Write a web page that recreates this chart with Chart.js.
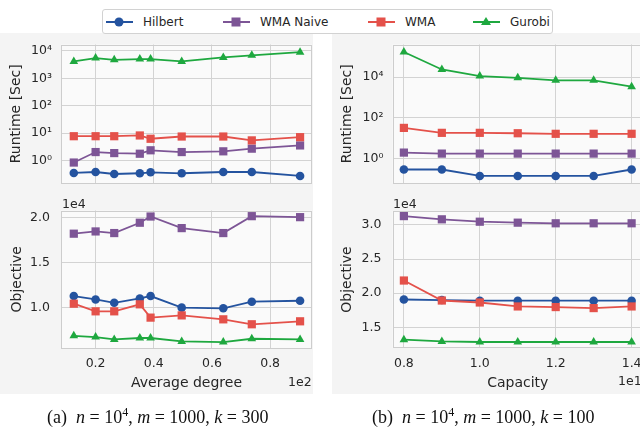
<!DOCTYPE html>
<html>
<head>
<meta charset="utf-8">
<script src="https://cdn.jsdelivr.net/npm/chart.js@4.4.0/dist/chart.umd.min.js"></script>
<style>
body { margin:0; width:640px; height:429px; overflow:hidden; background:#fff; position:relative;
       font-family:"DejaVu Sans", sans-serif; color:#262626; }
.col { position:absolute; background:#f4f4f4; top:33px; height:361px; }
canvas { position:absolute; }
.legend { position:absolute; left:102px; top:9px; width:449px; height:23px; background:#fff;
          border:1px solid #d2d2d2; border-radius:3px; z-index:5; }
.item { position:absolute; top:3px; height:18px; font-size:12px; line-height:18px; white-space:nowrap; }
.item svg { position:absolute; left:0; top:2px; }
.item span { position:absolute; top:0; }
.off { position:absolute; font-size:12.5px; line-height:15px; z-index:4; }
.cap { position:absolute; top:407px; font-family:"Liberation Serif", serif; font-size:18px; line-height:20px;
       white-space:nowrap; color:#111; }
.cap i { font-style:italic; }
.cap sup { font-size:12px; vertical-align:7px; line-height:0; }
</style>
</head>
<body>
<div class="col" style="left:0; width:313px;"></div>
<div class="col" style="left:332px; width:308px;"></div>

<div class="legend" id="legend"></div>

<canvas id="lt" width="330" height="172" style="left:0; top:28px;"></canvas>
<canvas id="lb" width="330" height="204" style="left:0; top:192px;"></canvas>
<canvas id="rt" width="330" height="172" style="left:332px; top:28px;"></canvas>
<canvas id="rb" width="330" height="204" style="left:332px; top:192px;"></canvas>

<div class="off" style="left:62px; top:196px;">1e4</div>
<div class="off" style="left:393px; top:196px;">1e4</div>
<div class="off" style="left:288px; top:374px;">1e2</div>
<div class="off" style="left:618px; top:373px;">1e1</div>

<div class="cap" style="left:47px;">(a)&nbsp; <i>n</i> = 10<sup>4</sup>, <i>m</i> = 1000, <i>k</i> = 300</div>
<div class="cap" style="left:372px;">(b)&nbsp; <i>n</i> = 10<sup>4</sup>, <i>m</i> = 1000, <i>k</i> = 100</div>

<script>
const methods = ['Hilbert', 'WMA Naive', 'WMA', 'Gurobi'];
const colors = ['#24539f', '#7d5596', '#e4514a', '#1ea83f'];
const markers = ['circle', 'rect', 'rect', 'triangle'];
const radii = [4.3, 5.8, 5.8, 5.0];

// x values as shown on the axes (x1e2 and x1e1)
const degree = [0.125, 0.20, 0.264, 0.352, 0.389, 0.496, 0.639, 0.737, 0.903];
const capacity = [0.8, 0.9, 1.0, 1.1, 1.2, 1.3, 1.4];

// runtime [sec] vs average degree
const rtDegHilbert = [0.36, 0.39, 0.33, 0.35, 0.38, 0.35, 0.39, 0.39, 0.28];
const rtDegNaive   = [0.86, 2.07, 1.9, 1.8, 2.4, 2.07, 2.2, 2.75, 3.6];
const rtDegWMA     = [7.8, 7.8, 7.8, 8.3, 6.3, 7.6, 7.6, 5.5, 7.2];
const rtDegGurobi  = [4100, 5400, 4700, 5000, 5000, 4100, 5700, 6800, 8900];

// objective (x1e4) vs average degree
const objDegHilbert = [1.129, 1.091, 1.054, 1.102, 1.129, 1.0, 0.993, 1.066, 1.077];
const objDegNaive   = [1.823, 1.848, 1.830, 1.945, 2.014, 1.885, 1.830, 2.018, 2.007];
const objDegWMA     = [1.044, 0.959, 0.959, 1.037, 0.889, 0.914, 0.870, 0.815, 0.848];
const objDegGurobi  = [0.687, 0.673, 0.646, 0.662, 0.662, 0.624, 0.617, 0.654, 0.646];

// runtime [sec] vs capacity
const rtCapHilbert = [0.29, 0.29, 0.14, 0.14, 0.14, 0.14, 0.29];
const rtCapNaive   = [1.96, 1.75, 1.75, 1.75, 1.75, 1.75, 1.75];
const rtCapWMA     = [32, 18.3, 18.3, 17.5, 16.4, 16.4, 16.4];
const rtCapGurobi  = [170000, 23600, 11200, 9200, 6900, 6900, 3400];

// objective (x1e4) vs capacity
const objCapHilbert = [1.908, 1.90, 1.89, 1.89, 1.89, 1.89, 1.89];
const objCapNaive   = [3.13, 3.083, 3.048, 3.034, 3.025, 3.025, 3.025];
const objCapWMA     = [2.186, 1.893, 1.864, 1.806, 1.797, 1.782, 1.806];
const objCapGurobi  = [1.319, 1.294, 1.285, 1.285, 1.285, 1.285, 1.285];

const degTicks = [0.2, 0.4, 0.6, 0.8];
const capTicks = [0.8, 1.0, 1.2, 1.4];
const rtDegTicks = [1, 10, 100, 1000, 10000];
const rtCapTicks = [1, 100, 10000];
const objDegTicks = [1.0, 1.5, 2.0];
const objCapTicks = [1.5, 2.0, 2.5, 3.0];

const gridColor = '#d3d3d3';
const textColor = '#262626';
const sup = { '0': '\u2070', '1': '\u00b9', '2': '\u00b2', '3': '\u00b3', '4': '\u2074', '5': '\u2075' };

// legend
const legend = document.getElementById('legend');
const itemLeft = [3, 120, 265, 370];
methods.forEach((m, i) => {
    let mk = '';
    if (markers[i] === 'circle') mk = `<circle cx="13" cy="7" r="4.5" fill="${colors[i]}"/>`;
    else if (markers[i] === 'rect') mk = `<rect x="8.5" y="2.5" width="9" height="9" fill="${colors[i]}"/>`;
    else mk = `<polygon points="13,2 18,10 8,10" fill="${colors[i]}"/>`;
    const d = document.createElement('div');
    d.className = 'item';
    d.style.left = itemLeft[i] + 'px';
    d.innerHTML = `<svg width="28" height="14"><line x1="0" y1="7" x2="27" y2="7" stroke="${colors[i]}" stroke-width="2"/>${mk}</svg>` +
        `<span style="left:37px">${m}</span>`;
    legend.appendChild(d);
});

const framePlugin = {
    id: 'frame',
    beforeDraw(chart) {
        const a = chart.chartArea, ctx = chart.ctx;
        ctx.save();
        ctx.fillStyle = '#fafafa';
        ctx.fillRect(a.left, a.top, a.right - a.left, a.bottom - a.top);
        ctx.restore();
    },
    beforeDatasetsDraw(chart) {
        const a = chart.chartArea, ctx = chart.ctx;
        ctx.save();
        ctx.strokeStyle = '#cdcdcd';
        ctx.lineWidth = 1;
        ctx.strokeRect(Math.round(a.left) + 0.5, Math.round(a.top) + 0.5,
            Math.round(a.right - a.left) - 1, Math.round(a.bottom - a.top) - 1);
        ctx.restore();
    }
};

function makeChart(id, xs, series, cfg) {
    const datasets = series.map((ys, i) => ({
        label: methods[i],
        data: xs.map((x, j) => ({ x: x, y: ys[j] })),
        borderColor: colors[i],
        backgroundColor: colors[i],
        borderWidth: 1.8,
        pointStyle: markers[i],
        pointRadius: radii[i],
        pointBorderWidth: 0,
        order: 3 - i,
        clip: false
    }));
    new Chart(document.getElementById(id), {
        type: 'line',
        data: { datasets: datasets },
        options: {
            responsive: false,
            animation: false,
            layout: { padding: { top: cfg.padTop, right: cfg.padRight, left: 0, bottom: 0 } },
            plugins: { legend: { display: false }, tooltip: { enabled: false } },
            scales: {
                x: {
                    type: 'linear',
                    min: cfg.xMin, max: cfg.xMax,
                    grid: { color: gridColor, drawTicks: false },
                    border: { display: false },
                    afterBuildTicks: s => { s.ticks = cfg.xTicks.map(v => ({ value: v })); },
                    afterFit: s => { s.height = cfg.xHeight; },
                    ticks: {
                        display: cfg.showX,
                        padding: 8,
                        color: textColor,
                        font: { family: 'DejaVu Sans', size: 12.5 },
                        callback: v => v.toFixed(1)
                    },
                    title: {
                        display: cfg.showX,
                        text: cfg.xTitle,
                        color: textColor,
                        padding: { top: 0, bottom: 4.5 },
                        font: { family: 'DejaVu Sans', size: 14 }
                    }
                },
                y: {
                    type: cfg.yType,
                    min: cfg.yMin, max: cfg.yMax,
                    grid: { color: gridColor, drawTicks: false },
                    border: { display: false },
                    afterBuildTicks: s => { s.ticks = cfg.yTicks.map(v => ({ value: v })); },
                    afterFit: s => { s.width = cfg.yWidth; },
                    ticks: {
                        padding: cfg.yType === 'logarithmic' ? 9 : 11,
                        color: textColor,
                        font: { family: 'DejaVu Sans', size: 12.5 },
                        callback: cfg.yType === 'logarithmic'
                            ? v => '10' + String(Math.round(Math.log10(v))).split('').map(c => sup[c]).join('')
                            : v => v.toFixed(1)
                    },
                    title: {
                        display: true,
                        text: cfg.yTitle,
                        color: textColor,
                        padding: { top: cfg.yTitlePad, bottom: 0 },
                        font: { family: 'DejaVu Sans', size: 14 }
                    }
                }
            }
        },
        plugins: [framePlugin]
    });
}

makeChart('lt', degree, [rtDegHilbert, rtDegNaive, rtDegWMA, rtDegGurobi], {
    padTop: 15, padRight: 18, xHeight: 17, yWidth: 61, yTitlePad: 8,
    xMin: 0.081, xMax: 0.944, xTicks: degTicks, showX: false, xTitle: '',
    yType: 'logarithmic', yMin: 0.155, yMax: 16900, yTicks: rtDegTicks, yTitle: 'Runtime [Sec]'
});
makeChart('lb', degree, [objDegHilbert, objDegNaive, objDegWMA, objDegGurobi], {
    padTop: 18, padRight: 18, xHeight: 48, yWidth: 61, yTitlePad: 9,
    xMin: 0.081, xMax: 0.944, xTicks: degTicks, showX: true, xTitle: 'Average degree',
    yType: 'linear', yMin: 0.551, yMax: 2.081, yTicks: objDegTicks, yTitle: 'Objective'
});
makeChart('rt', capacity, [rtCapHilbert, rtCapNaive, rtCapWMA, rtCapGurobi], {
    padTop: 15, padRight: 19, xHeight: 17, yWidth: 60.5, yTitlePad: 6.6,
    xMin: 0.77, xMax: 1.43, xTicks: capTicks, showX: false, xTitle: '',
    yType: 'logarithmic', yMin: 0.063, yMax: 398000, yTicks: rtCapTicks, yTitle: 'Runtime [Sec]'
});
makeChart('rb', capacity, [objCapHilbert, objCapNaive, objCapWMA, objCapGurobi], {
    padTop: 19, padRight: 19, xHeight: 48, yWidth: 60.5, yTitlePad: 6.6,
    xMin: 0.77, xMax: 1.43, xTicks: capTicks, showX: true, xTitle: 'Capacity',
    yType: 'linear', yMin: 1.197, yMax: 3.205, yTicks: objCapTicks, yTitle: 'Objective'
});
</script>
</body>
</html>
